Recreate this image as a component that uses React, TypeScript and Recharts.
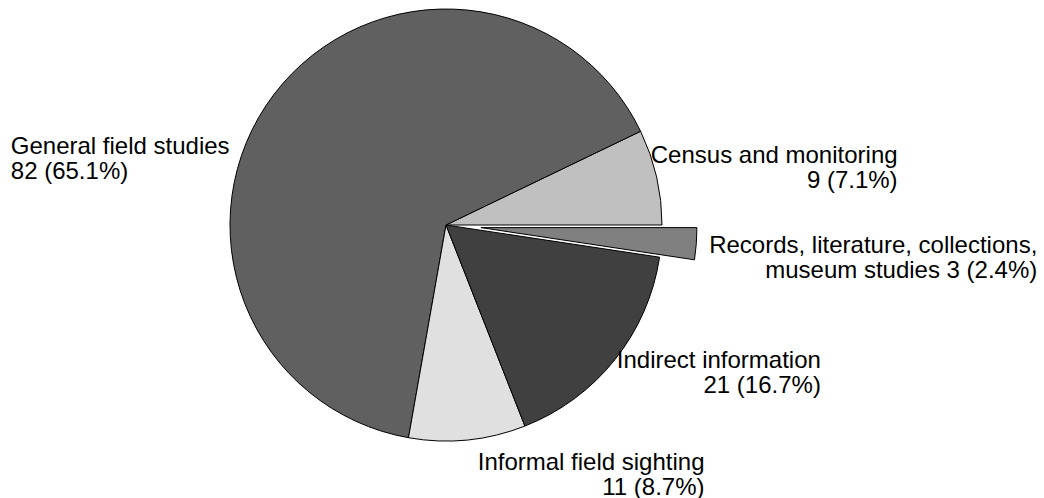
import React from "react";
import { Cell, Pie, PieChart } from "recharts";

// Study types, counted counter-clockwise from 3 o'clock
const categories = [
  "Census and monitoring",
  "General field studies",
  "Informal field sighting",
  "Indirect information",
  "Records, literature, collections, museum studies"
];
const counts = [9, 82, 11, 21, 3];

// how each label is split over two lines
const labelHeads = [
  "Census and monitoring",
  "General field studies",
  "Informal field sighting",
  "Indirect information",
  "Records, literature, collections,"
];
const labelTails = ["", "", "", "", "museum studies "];

const colors = ["#c0c0c0", "#606060", "#e0e0e0", "#404040", "#808080"];
const explode = [0, 0, 0, 0, 35];

// label placement relative to the slice's outer mid point
const labelLayout = [
  { anchor: "end", dx: 241, dy: -14 },
  { anchor: "start", dx: -263, dy: 59 },
  { anchor: "end", dx: 237, dy: 30 },
  { anchor: "end", dx: 206, dy: 8 },
  { anchor: "end", dx: 341, dy: 9 }
];

const WIDTH = 1044;
const HEIGHT = 498;
const CX = 446;
const CY = 225;
const RADIUS = 216;
const FONT = "'Liberation Sans', Arial, Helvetica, sans-serif";
const RAD = Math.PI / 180;

const total = counts.reduce((a, b) => a + b, 0);
const data = categories.map((name, i) => ({ name, value: counts[i] }));

const midAngles = counts.map((c, i) => {
  const before = counts.slice(0, i).reduce((a, b) => a + b, 0);
  return ((before + c / 2) / total) * 360;
});

const renderLabel = (props: any) => {
  const { cx, cy, midAngle, outerRadius, index } = props;
  const r = outerRadius + explode[index];
  const px = cx + r * Math.cos(-midAngle * RAD);
  const py = cy + r * Math.sin(-midAngle * RAD);
  const layout = labelLayout[index];
  const pct = ((counts[index] / total) * 100).toFixed(1);
  const x = px + layout.dx;
  return (
    <text
      x={x}
      y={py + layout.dy}
      textAnchor={layout.anchor as any}
      fontFamily={FONT}
      fontSize={24}
      fill="#000"
    >
      <tspan x={x}>{labelHeads[index]}</tspan>
      <tspan x={x} dy={25}>{`${labelTails[index]}${counts[index]} (${pct}%)`}</tspan>
    </text>
  );
};

export default function App() {
  // the exploded slice is drawn by a second pie shifted along its mid angle
  const ex = explode.findIndex((e) => e > 0);
  const shiftX = explode[ex] * Math.cos(-midAngles[ex] * RAD);
  const shiftY = explode[ex] * Math.sin(-midAngles[ex] * RAD);

  return (
    <div style={{ position: "absolute", left: 0, top: 0, width: WIDTH, height: HEIGHT, background: "#fff" }}>
      <PieChart width={WIDTH} height={HEIGHT} margin={{ top: 0, right: 0, bottom: 0, left: 0 }}>
        <Pie
          data={data}
          dataKey="value"
          nameKey="name"
          cx={CX}
          cy={CY}
          innerRadius={0}
          outerRadius={RADIUS}
          startAngle={0}
          endAngle={360}
          stroke="#000"
          strokeWidth={1}
          label={renderLabel}
          labelLine={false}
          isAnimationActive={false}
        >
          {data.map((d, i) => (
            <Cell
              key={`c-${i}`}
              fill={explode[i] ? "none" : colors[i]}
              stroke={explode[i] ? "none" : "#000"}
            />
          ))}
        </Pie>
        <Pie
          data={data}
          dataKey="value"
          nameKey="name"
          cx={CX + shiftX}
          cy={CY + shiftY}
          innerRadius={0}
          outerRadius={RADIUS}
          startAngle={0}
          endAngle={360}
          stroke="#000"
          strokeWidth={1}
          label={false}
          labelLine={false}
          isAnimationActive={false}
        >
          {data.map((d, i) => (
            <Cell
              key={`e-${i}`}
              fill={explode[i] ? colors[i] : "none"}
              stroke={explode[i] ? "#000" : "none"}
            />
          ))}
        </Pie>
      </PieChart>
    </div>
  );
}
